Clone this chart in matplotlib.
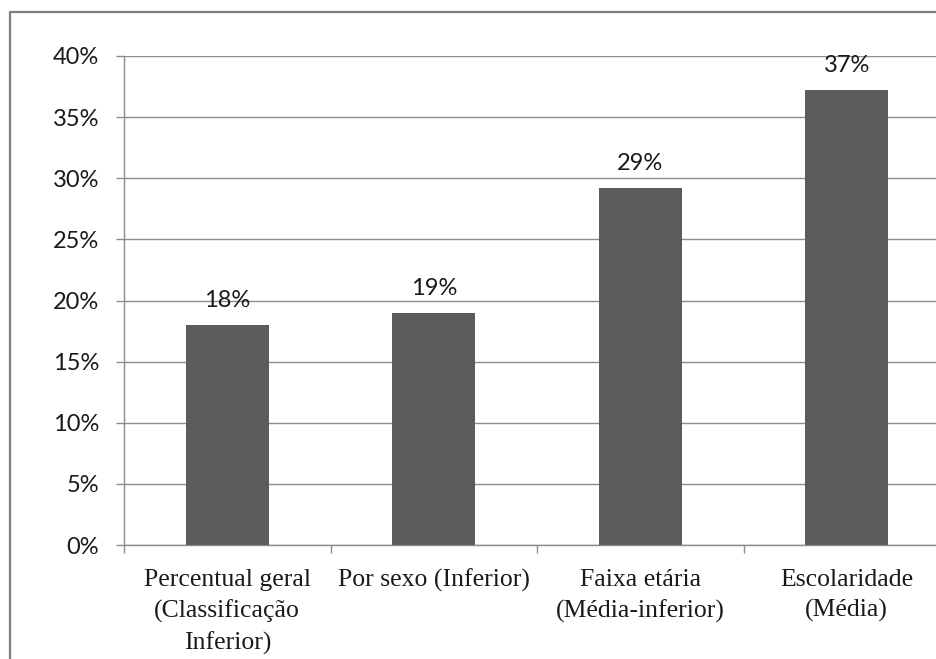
import matplotlib
matplotlib.use("Agg")
import matplotlib.pyplot as plt
import matplotlib.patches as mpatches
from matplotlib.ticker import FixedLocator, PercentFormatter

categories = [
    "Percentual geral\n(Classificação\nInferior)",
    "Por sexo (Inferior)",
    "Faixa etária\n(Média-inferior)",
    "Escolaridade\n(Média)",
]
values = [18.0, 19.0, 29.2, 37.2]
value_labels = ["18%", "19%", "29%", "37%"]
yticks = [0, 5, 10, 15, 20, 25, 30, 35, 40]

BAR_COLOR = "#5c5c5c"
LINE_COLOR = "#8c8c8c"
TEXT_COLOR = "#1a1a1a"
SANS = ["Lato", "DejaVu Sans"]
SERIF = ["Liberation Serif", "DejaVu Serif"]

fig = plt.figure(figsize=(9.36, 6.59), dpi=100)
fig.patch.set_facecolor("white")

# outer chart border (cut off on right / bottom as in the source)
fig.patches.append(mpatches.Rectangle(
    (9.5 / 936, -0.2), 1.2, (659 - 12) / 659 + 0.2,
    transform=fig.transFigure, fill=False, ec="#7f7f7f", lw=1.6))

ax = fig.add_axes([124 / 936, (659 - 545) / 659, 826 / 936, 489 / 659])
ax.set_facecolor("white")

x = list(range(len(categories)))
ax.bar(x, values, width=0.4, color=BAR_COLOR, zorder=3)

for xi, v, lab in zip(x, values, value_labels):
    ax.annotate(lab, (xi, v), xytext=(0, 10), textcoords="offset points",
                ha="center", va="bottom", fontsize=17, color=TEXT_COLOR,
                family=SANS)

ax.set_xlim(-0.5, len(categories) - 0.5)
ax.set_ylim(0, 40)
ax.set_yticks(yticks)
ax.yaxis.set_major_formatter(PercentFormatter(decimals=0))
ax.grid(axis="y", color=LINE_COLOR, lw=1.0, zorder=0)

for sp in ("top", "right"):
    ax.spines[sp].set_visible(False)
for sp in ("left", "bottom"):
    ax.spines[sp].set_color(LINE_COLOR)
    ax.spines[sp].set_linewidth(1.0)

ax.tick_params(axis="y", length=6, width=1.0, color=LINE_COLOR, pad=12,
               labelsize=17, labelcolor=TEXT_COLOR)
for t in ax.get_yticklabels():
    t.set_family(SANS)

ax.set_xticks(x)
ax.set_xticklabels(categories, fontsize=18.5, color=TEXT_COLOR, family=SERIF,
                   linespacing=1.48)
ax.tick_params(axis="x", which="major", length=0, pad=17)
ax.xaxis.set_minor_locator(FixedLocator([i - 0.5 for i in range(len(categories) + 1)]))
ax.tick_params(axis="x", which="minor", length=6, width=1.0, color=LINE_COLOR)

fig.savefig("out.png", dpi=100, facecolor="white")
